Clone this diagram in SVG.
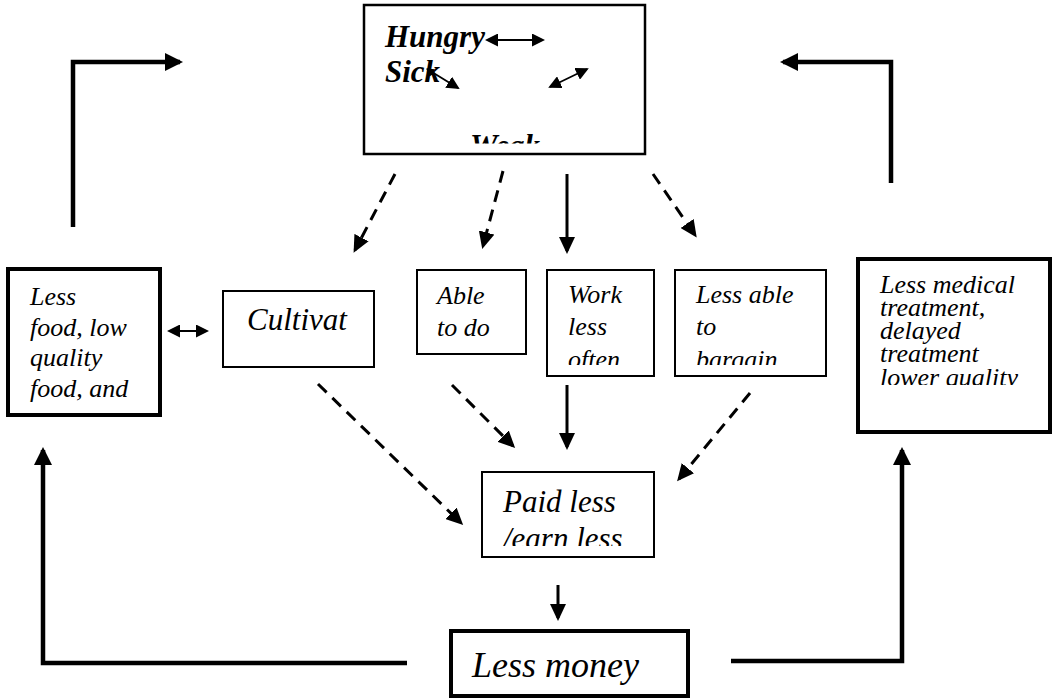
<svg xmlns="http://www.w3.org/2000/svg" width="1057" height="699" viewBox="0 0 1057 699">
<style>
  .box { fill: #fff; stroke: #000; }
  .lbl { font-family: 'Liberation Serif', 'Times New Roman', serif; font-style: italic; fill: #000; }
  .b { font-weight: bold; }
  .conn { fill: none; stroke: #000; }
  .thick { stroke-width: 4.5; }
  .mid { stroke-width: 3; }
  .dash { stroke-dasharray: 12 8; }
  .thin { stroke-width: 1.8; }
</style>
<defs>
  <marker id="big" viewBox="0 0 18 18" refX="15" refY="9" markerWidth="18" markerHeight="18" markerUnits="userSpaceOnUse" orient="auto">
    <path d="M0,0 L18,9 L0,18 z" fill="#000"/>
  </marker>
  <marker id="ah" viewBox="0 0 17 16" refX="14" refY="8" markerWidth="17" markerHeight="16" markerUnits="userSpaceOnUse" orient="auto">
    <path d="M0,0 L17,8 L0,16 z" fill="#000"/>
  </marker>
  <marker id="sm" viewBox="0 0 13 13" refX="11" refY="6.5" markerWidth="13" markerHeight="13" markerUnits="userSpaceOnUse" orient="auto-start-reverse">
    <path d="M0,0 L13,6.5 L0,13 z" fill="#000"/>
  </marker>
  <marker id="smx" viewBox="0 0 8 8" refX="7" refY="4" markerWidth="8" markerHeight="8" markerUnits="userSpaceOnUse" orient="auto-start-reverse">
    <path d="M0,0 L8,4 L0,8 z" fill="#000"/>
  </marker>
  <clipPath id="cTop"><rect x="364" y="5" width="281" height="138.5"/></clipPath>
  <clipPath id="cMid"><rect x="540" y="260" width="290" height="105"/></clipPath>
  <clipPath id="cPaid"><rect x="482" y="472" width="172" height="74"/></clipPath>
  <clipPath id="cMed"><rect x="858" y="259" width="192" height="126"/></clipPath>
</defs>

<g id="node-hungry">
  <rect class="box" x="364" y="5" width="281" height="149" stroke-width="2.5"/>
  <g clip-path="url(#cTop)">
    <text class="lbl b" x="385" y="47" font-size="31">Hungry</text>
    <text class="lbl b" x="385" y="82" font-size="31">Sick</text>
    <text class="lbl b" x="470" y="156" font-size="31">Weak</text>
  </g>
  <line class="conn thin" x1="487" y1="40" x2="543" y2="40" marker-start="url(#sm)" marker-end="url(#sm)"/>
  <line class="conn thin" x1="427" y1="69" x2="458" y2="88" marker-start="url(#smx)" marker-end="url(#sm)"/>
  <line class="conn thin" x1="550" y1="87" x2="587" y2="69" marker-start="url(#sm)" marker-end="url(#sm)"/>
</g>

<g id="node-food">
  <rect class="box" x="8" y="269" width="152" height="146" stroke-width="4"/>
  <text class="lbl" font-size="26"><tspan x="30" y="305">Less</tspan><tspan x="30" y="336">food, low</tspan><tspan x="30" y="366">quality</tspan><tspan x="30" y="397">food, and</tspan></text>
</g>

<g id="node-cultivat">
  <rect class="box" x="223" y="291" width="151" height="76" stroke-width="2"/>
  <text class="lbl" x="247" y="330" font-size="31">Cultivat</text>
</g>

<g id="node-able">
  <rect class="box" x="417" y="270" width="109" height="84" stroke-width="2"/>
  <text class="lbl" font-size="26"><tspan x="437" y="304">Able</tspan><tspan x="437" y="336">to do</tspan></text>
</g>

<g id="node-work">
  <rect class="box" x="547" y="270" width="107" height="106" stroke-width="2"/>
  <text class="lbl" font-size="26" clip-path="url(#cMid)"><tspan x="568" y="303">Work</tspan><tspan x="568" y="335">less</tspan><tspan x="568" y="368">often</tspan></text>
</g>

<g id="node-bargain">
  <rect class="box" x="675" y="270" width="151" height="106" stroke-width="2"/>
  <text class="lbl" font-size="26" clip-path="url(#cMid)"><tspan x="696" y="303">Less able</tspan><tspan x="696" y="335">to</tspan><tspan x="696" y="368">bargain</tspan></text>
</g>

<g id="node-medical">
  <rect class="box" x="858" y="259" width="192" height="173" stroke-width="4"/>
  <text class="lbl" font-size="26" clip-path="url(#cMed)"><tspan x="880" y="293">Less medical</tspan><tspan x="880" y="316">treatment,</tspan><tspan x="880" y="339">delayed</tspan><tspan x="880" y="362">treatment</tspan><tspan x="880" y="386">lower quality</tspan></text>
</g>

<g id="node-paid">
  <rect class="box" x="482" y="472" width="172" height="85" stroke-width="2"/>
  <text class="lbl" font-size="31" clip-path="url(#cPaid)"><tspan x="503" y="512">Paid less</tspan><tspan x="503" y="549">/earn less</tspan></text>
</g>

<g id="node-money">
  <rect class="box" x="451" y="631" width="237" height="65" stroke-width="4"/>
  <text class="lbl" x="472" y="677" font-size="36">Less money</text>
</g>

<g id="connectors">
  <path class="conn thick" d="M73,227 V62 H180" marker-end="url(#big)"/>
  <path class="conn thick" d="M891,183 V62 H783" marker-end="url(#big)"/>
  <path class="conn thick" d="M407,663 H43 V450" marker-end="url(#big)"/>
  <path class="conn thick" d="M731,661 H902 V450" marker-end="url(#big)"/>
  <line class="conn thin" x1="169" y1="331" x2="207" y2="331" marker-start="url(#sm)" marker-end="url(#sm)"/>
  <line class="conn mid dash" x1="395" y1="174" x2="355" y2="250" marker-end="url(#ah)"/>
  <line class="conn mid dash" x1="503" y1="171" x2="483" y2="246" marker-end="url(#ah)"/>
  <line class="conn mid" x1="567" y1="174" x2="567" y2="251" marker-end="url(#ah)"/>
  <line class="conn mid dash" x1="653" y1="174" x2="695" y2="235" marker-end="url(#ah)"/>
  <line class="conn mid dash" x1="318" y1="384" x2="461" y2="523" marker-end="url(#ah)"/>
  <line class="conn mid dash" x1="452" y1="385" x2="513" y2="446" marker-end="url(#ah)"/>
  <line class="conn mid" x1="567" y1="385" x2="567" y2="447" marker-end="url(#ah)"/>
  <line class="conn mid dash" x1="750" y1="393" x2="679" y2="479" marker-end="url(#ah)"/>
  <line class="conn mid" x1="558" y1="585" x2="558" y2="618" marker-end="url(#ah)"/>
</g>
</svg>
